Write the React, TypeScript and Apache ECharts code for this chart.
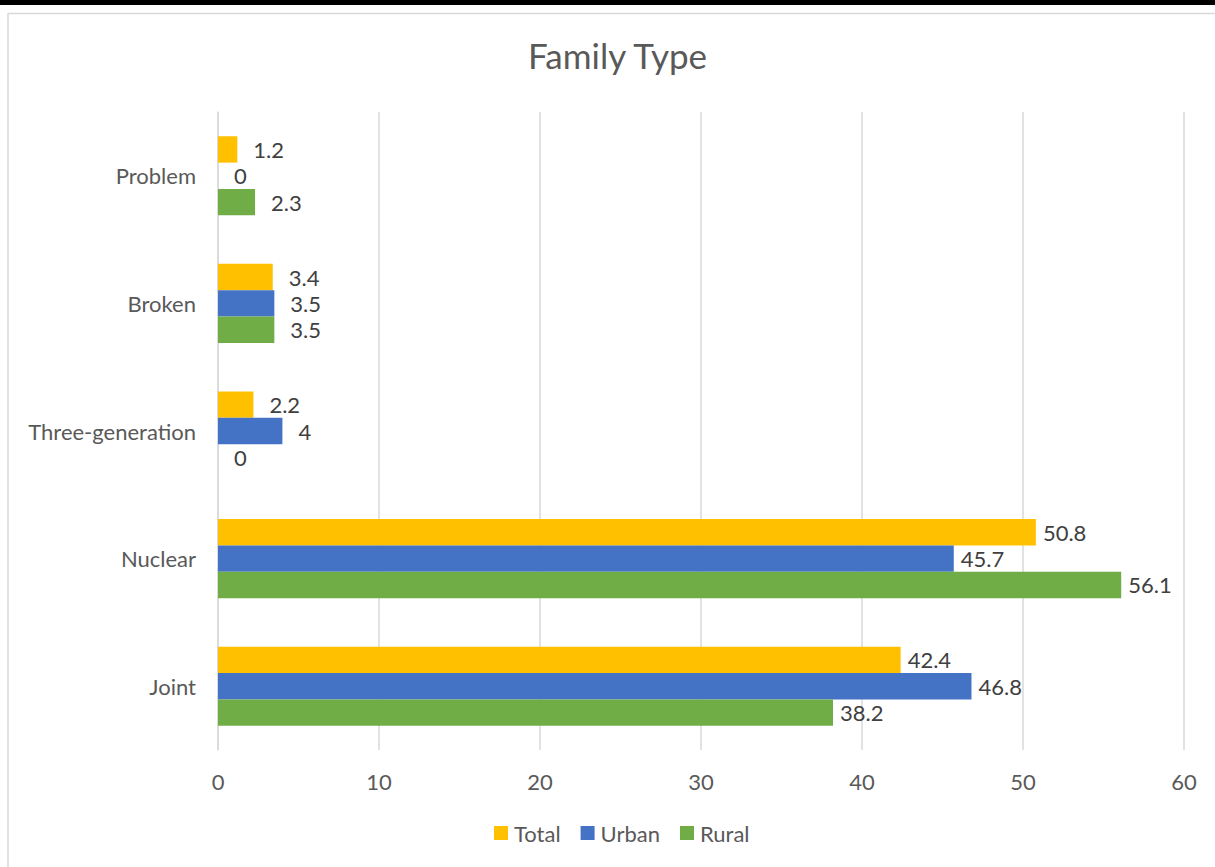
import React, { useEffect, useRef } from "react";
import * as echarts from "echarts";

const categories = ["Joint", "Nuclear", "Three-generation", "Broken", "Problem"];
const totalValues = [42.4, 50.8, 2.2, 3.4, 1.2];
const urbanValues = [46.8, 45.7, 4, 3.5, 0];
const ruralValues = [38.2, 56.1, 0, 3.5, 2.3];
const xTicks = [0, 10, 20, 30, 40, 50, 60];

const FONT = "Lato, 'Open Sans', sans-serif";
const TEXT = "#595959";

// Short bars get a little more room before their value label.
const withLabelGap = (values: number[]) =>
  values.map((v) => ({ value: v, label: { distance: v < 10 ? 16 : 7 } }));

export default function App() {
  const ref = useRef<HTMLDivElement>(null);

  useEffect(() => {
    if (!ref.current) return;
    const chart = echarts.init(ref.current, undefined, { renderer: "svg" });

    const label = {
      show: true,
      position: "right" as const,
      color: "#404040",
      fontSize: 22,
      fontFamily: FONT,
    };

    const bar = (name: string, values: number[], color: string) => ({
      name,
      type: "bar",
      data: withLabelGap(values),
      itemStyle: { color },
      label,
      barGap: "0%",
      barCategoryGap: "38%",
    });

    chart.setOption({
      animation: false,
      backgroundColor: "#ffffff",
      textStyle: { fontFamily: FONT },
      graphic: [
        { type: "rect", shape: { x: 0, y: 0, width: 1215, height: 5 }, style: { fill: "#000000" } },
        { type: "line", shape: { x1: 8, y1: 13.5, x2: 1215, y2: 13.5 }, style: { stroke: "#d9d9d9", lineWidth: 1.5 } },
        { type: "line", shape: { x1: 8, y1: 13, x2: 8, y2: 867 }, style: { stroke: "#d9d9d9", lineWidth: 1.5 } },
      ],
      title: {
        text: "Family Type",
        left: 523,
        top: 32,
        textStyle: { color: TEXT, fontSize: 35, fontWeight: "normal", fontFamily: FONT },
      },
      legend: {
        data: ["Total", "Urban", "Rural"],
        bottom: 18,
        left: 489,
        itemWidth: 14,
        itemHeight: 14,
        itemGap: 20,
        icon: "rect",
        textStyle: { color: TEXT, fontSize: 22, fontFamily: FONT, padding: [0, 0, 0, 1] },
      },
      grid: { left: 218, right: 31, top: 112, bottom: 117 },
      xAxis: {
        type: "value",
        min: 0,
        max: 60,
        interval: 10,
        axisLine: { show: false },
        axisTick: { show: false },
        splitLine: { lineStyle: { color: "#d9d9d9", width: 1.5 } },
        axisLabel: {
          color: TEXT,
          fontSize: 22,
          margin: 20,
          fontFamily: FONT,
          formatter: (v: number) => (xTicks.includes(v) ? String(v) : ""),
        },
      },
      yAxis: {
        type: "category",
        data: categories,
        axisLine: { show: true, lineStyle: { color: "#d9d9d9", width: 1.5 } },
        axisTick: { show: false },
        axisLabel: { color: TEXT, fontSize: 22, margin: 22, fontFamily: FONT },
      },
      series: [
        bar("Total", totalValues, "#FFC000"),
        bar("Urban", urbanValues, "#4472C4"),
        bar("Rural", ruralValues, "#70AD47"),
      ],
    });

    return () => chart.dispose();
  }, []);

  return (
    <div
      ref={ref}
      style={{ position: "fixed", left: 0, top: 0, width: 1215, height: 867 }}
    />
  );
}
